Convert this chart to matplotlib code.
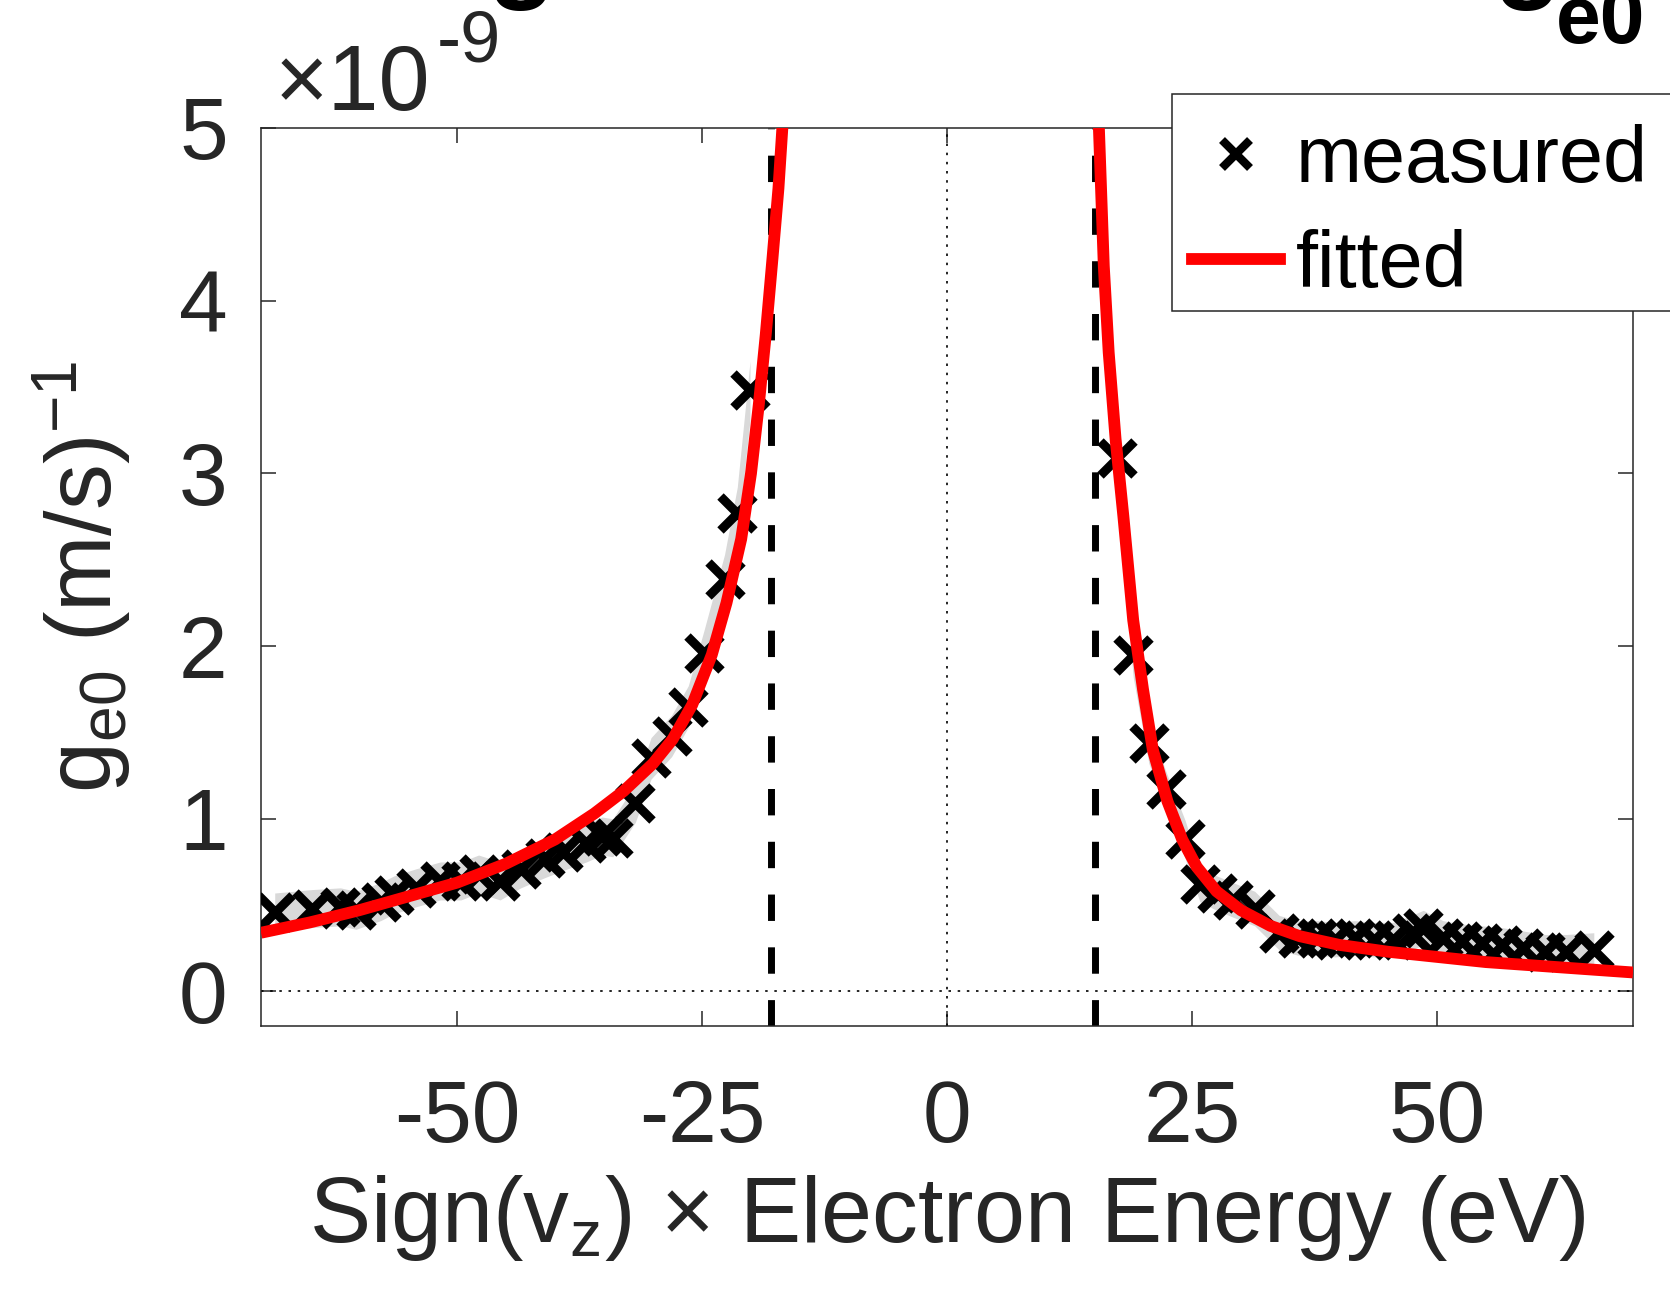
import matplotlib
matplotlib.use("Agg")
import matplotlib.pyplot as plt
from matplotlib.lines import Line2D
from matplotlib.patches import Rectangle

plt.rcParams['font.family'] = ['Liberation Sans', 'DejaVu Sans']
plt.rcParams['mathtext.fontset'] = 'custom'
plt.rcParams['mathtext.rm'] = 'Liberation Sans'
plt.rcParams['mathtext.it'] = 'Liberation Sans:italic'
plt.rcParams['mathtext.bf'] = 'Liberation Sans:bold'

# ---------------- data (g_e0 in units of 1e-9 (m/s)^-1) ----------------
left_E = [-68.6, -64.8, -61.9, -60.3, -57.8, -56.4, -54.2, -51.7, -49.6, -47.8,
          -45.6, -43.5, -41.0, -39.2, -36.8, -35.2, -34.1, -31.8, -30.2, -28.1,
          -26.4, -24.8, -22.7, -21.4, -20.1]
left_g = [0.46, 0.48, 0.49, 0.47, 0.52, 0.56, 0.60, 0.64, 0.64, 0.68,
          0.64, 0.71, 0.77, 0.81, 0.86, 0.90, 0.89, 1.09, 1.35, 1.48,
          1.65, 1.96, 2.39, 2.77, 3.48]
left_err = [0.11, 0.11, 0.11, 0.11, 0.11, 0.11, 0.11, 0.11, 0.11, 0.11,
            0.11, 0.11, 0.11, 0.11, 0.11, 0.11, 0.11, 0.11, 0.12, 0.12,
            0.12, 0.13, 0.14, 0.15, 0.17]

right_E = [17.3, 19.0, 20.6, 22.3, 24.3, 25.8, 27.5, 29.2, 31.4, 33.9,
           35.8, 37.8, 39.6, 41.6, 43.6, 45.5, 47.4, 48.6, 50.6, 52.6,
           54.6, 56.6, 58.8, 61.0, 63.2, 66.0]
right_g = [3.09, 1.95, 1.44, 1.17, 0.88, 0.62, 0.57, 0.53, 0.48, 0.34,
           0.31, 0.31, 0.30, 0.31, 0.30, 0.30, 0.34, 0.37, 0.31, 0.29,
           0.28, 0.27, 0.25, 0.23, 0.23, 0.24]
right_err = [0.14, 0.13, 0.12, 0.11, 0.11, 0.10, 0.10, 0.10, 0.10, 0.10,
             0.10, 0.10, 0.10, 0.10, 0.10, 0.10, 0.10, 0.10, 0.10, 0.10,
             0.10, 0.10, 0.10, 0.10, 0.10, 0.10]

fit_left_E = [-70, -65, -60, -55, -50, -45, -40, -36, -33, -30, -28, -26,
              -24, -22.5, -21, -20, -19.2, -18.5, -17.8, -17.2, -16.8, -16.5]
fit_left_g = [0.34, 0.40, 0.47, 0.55, 0.63, 0.74, 0.88, 1.03, 1.16, 1.32, 1.46, 1.66,
              1.95, 2.25, 2.62, 3.00, 3.40, 3.80, 4.25, 4.65, 5.00, 5.30]
fit_right_E = [15.3, 15.5, 16.0, 16.5, 17.2, 18.0, 19.0, 20.0, 21.0, 22.5, 24.0,
               25.5, 27.5, 30, 33, 36, 40, 45, 50, 55, 60, 65, 70]
fit_right_g = [5.30, 5.00, 4.20, 3.70, 3.20, 2.75, 2.15, 1.75, 1.40, 1.10, 0.88,
               0.72, 0.58, 0.47, 0.38, 0.32, 0.27, 0.23, 0.20, 0.17, 0.15, 0.13, 0.11]

cutoffs = [-18.0, 15.1]
x_ticks = [-50, -25, 0, 25, 50]
y_ticks = [0, 1, 2, 3, 4, 5]

TXT = '#262626'
W, H = 1670, 1292

fig = plt.figure(figsize=(W / 100, H / 100), dpi=100)
L, R, T, B = 261, 1633, 128, 1026
ax = fig.add_axes([L / W, 1 - B / H, (R - L) / W, (B - T) / H])

# error bands
ax.fill_between(left_E, [g - e for g, e in zip(left_g, left_err)],
                [g + e for g, e in zip(left_g, left_err)],
                color='#d9d9d9', lw=0, zorder=1)
ax.fill_between(right_E, [g - e for g, e in zip(right_g, right_err)],
                [g + e for g, e in zip(right_g, right_err)],
                color='#d9d9d9', lw=0, zorder=1)

# reference lines
ax.axhline(0, color='k', lw=1.2, ls=(0, (1.5, 4)), zorder=2)
ax.axvline(0, color='k', lw=1.2, ls=(0, (1.5, 4)), zorder=2)
for c in cutoffs:
    ax.axvline(c, color='k', lw=5, ls=(0, (3.8, 3.8)), zorder=2)

# measured
mk = dict(ls='none', marker='x', ms=25, mew=6.5, color='k', zorder=3)
ax.plot(left_E, left_g, **mk)
ax.plot(right_E, right_g, **mk)
# fitted
ax.plot(fit_left_E, fit_left_g, color='#ff0000', lw=8.5, zorder=4,
        solid_capstyle='butt')
ax.plot(fit_right_E, fit_right_g, color='#ff0000', lw=8.5, zorder=4,
        solid_capstyle='butt')

ax.set_xlim(-70, 70)
ax.set_ylim(-0.2, 5)
ax.set_xticks(x_ticks)
ax.set_yticks(y_ticks)
ax.set_xticklabels([str(v) for v in x_ticks])
ax.set_yticklabels([str(v) for v in y_ticks])
ax.tick_params(direction='in', length=11, width=1.1, top=True, right=True,
               labelsize=63, colors=TXT)
ax.tick_params(axis='x', pad=38)
ax.tick_params(axis='y', pad=24)
for s in ax.spines.values():
    s.set_color(TXT)
    s.set_linewidth(1.1)

ax.set_xlabel('Sign(v$_{\\mathrm{z}}$) × Electron Energy (eV)', fontsize=66, color=TXT)
ax.set_ylabel('g$_{\\mathrm{e0}}$ (m/s)$^{\\mathrm{-1}}$', fontsize=66, color=TXT)
ax.xaxis.set_label_coords(0.5, -0.164)
ax.yaxis.set_label_coords(-0.093, 0.5)

# exponent label
fig.text(275 / W, 1 - 110 / H, '×10', fontsize=66, color=TXT,
         va='baseline', ha='left')
fig.text(437 / W, 1 - 62 / H, '-9', fontsize=52, color=TXT,
         va='baseline', ha='left')

# cut-off title fragments at the very top
fig.text(521 / W, 1 + 12 / H, 'g', fontsize=80, fontweight='bold', color='k',
         ha='center', va='baseline')
fig.text(1527 / W, 1 + 12 / H, 'g', fontsize=80, fontweight='bold', color='k',
         ha='center', va='baseline')
fig.text(1556 / W, 1 - 43 / H, 'e0', fontsize=58, fontweight='bold', color='k',
         ha='left', va='baseline')

# legend: frame runs past the right edge of the figure
fig.patches.append(Rectangle((1172 / W, 1 - 311 / H), 600 / W, (311 - 94) / H,
                             transform=fig.transFigure, facecolor='white',
                             edgecolor=TXT, lw=1.1, zorder=5))
handles = [Line2D([], [], ls='none', marker='x', ms=20, mew=6, color='k'),
           Line2D([], [], color='#ff0000', lw=8.5)]
leg = fig.legend(handles, ['measured', 'fitted'], loc='upper left',
                 bbox_to_anchor=(1172 / W, 1 - 104 / H), fontsize=57,
                 frameon=False, borderpad=0.25, handlelength=1.11,
                 handletextpad=0.2, labelspacing=0.38, borderaxespad=0)
leg.set_zorder(6)
for t in leg.get_texts():
    t.set_color('k')

fig.savefig('out.png', dpi=100)
